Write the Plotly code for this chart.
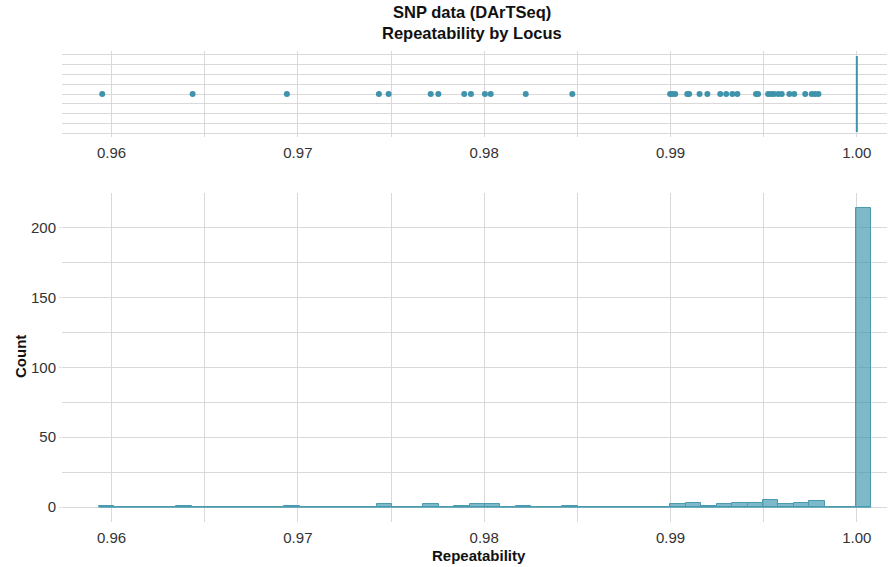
import plotly.graph_objects as go

# ---------------- data ----------------
# Repeatability values of loci below 1.0 (points in the top strip)
outlier_values = [
    0.95950, 0.96435, 0.96941, 0.97435, 0.97487, 0.97713, 0.97754, 0.97893,
    0.97929, 0.98004, 0.98035, 0.98223, 0.98473, 0.98998, 0.99009, 0.99025,
    0.99090, 0.99100, 0.99156, 0.99198, 0.99267, 0.99299, 0.99332, 0.99359,
    0.99459, 0.99470, 0.99524, 0.99540, 0.99556, 0.99578, 0.99597, 0.99638,
    0.99664, 0.99723, 0.99758, 0.99776, 0.99794,
]
n_perfect = 214           # loci with repeatability exactly 1.0
perfect_value = 1.0

# Histogram (50 bins)
bin_start = 0.95932
bin_width = 0.000829
bin_counts = [
    1, 0, 0, 0, 0, 1, 0, 0, 0, 0,
    0, 0, 1, 0, 0, 0, 0, 0, 2, 0,
    0, 2, 0, 1, 2, 2, 0, 1, 0, 0,
    1, 0, 0, 0, 0, 0, 0, 2, 3, 1,
    2, 3, 3, 5, 2, 3, 4, 0, 0, 214,
]

x_ticks = [0.96, 0.97, 0.98, 0.99, 1.00]
x_ticklabels = ["0.96", "0.97", "0.98", "0.99", "1.00"]
y_ticks = [0, 50, 100, 150, 200]

title_lines = ["SNP data (DArTSeq)", "Repeatability by Locus"]
x_title = "Repeatability"
y_title = "Count"

# ---------------- styling ----------------
FONT = "Liberation Sans, Arial, sans-serif"
TEAL = "#3F93AB"
FILL = "rgba(58,148,172,0.66)"
EDGE = "#4A9BB0"
GRID = "#D9D9D9"
TXT = "#333333"
DARK = "#111111"
x_range = [0.95734, 1.00162]

W, H = 888, 567
ML, MT = 62, 51
MR = W - 887
MB = H - 522
PW, PH = W - ML - MR, H - MT - MB


def px_x(px):
    return (px - ML) / PW


def px_y(py):
    return (H - MB - py) / PH


box_values = outlier_values + [perfect_value] * n_perfect
centers = [bin_start + (i + 0.5) * bin_width for i in range(len(bin_counts))]
edges_ends = [bin_start, bin_start + len(bin_counts) * bin_width]

fig = go.Figure()

fig.add_trace(go.Box(
    x=box_values, y0=0, orientation="h", xaxis="x", yaxis="y",
    boxpoints="outliers", jitter=0, pointpos=0, width=7.7,
    fillcolor="rgba(0,0,0,0)", line=dict(color=TEAL, width=2),
    marker=dict(color=TEAL, size=6, line=dict(width=0)),
    whiskerwidth=0, showlegend=False, hoverinfo="x",
))

fig.add_trace(go.Scatter(
    x=edges_ends, y=[0, 0], mode="lines", xaxis="x2", yaxis="y2",
    line=dict(color=EDGE, width=1.5), showlegend=False, hoverinfo="skip",
))
fig.add_trace(go.Bar(
    x=centers, y=bin_counts, width=bin_width, xaxis="x2", yaxis="y2",
    marker=dict(color=FILL, line=dict(color=EDGE, width=1)),
    showlegend=False,
))

axis_common = dict(
    showline=False, zeroline=False, gridcolor=GRID, gridwidth=1,
    automargin=False,
    tickfont=dict(family=FONT, size=15, color=TXT),
)

top_dom = [px_y(137), 1.0]
bot_dom = [0.0, px_y(193)]

minor_x = dict(tickmode="array", tickvals=[0.965, 0.975, 0.985, 0.995],
               showgrid=True, gridcolor=GRID, gridwidth=1)

annotations = [
    dict(text="<b>" + title_lines[0] + "</b>", x=px_x(472), y=px_y(12),
         font=dict(family=FONT, size=16.5, color=DARK)),
    dict(text="<b>" + title_lines[1] + "</b>", x=px_x(472), y=px_y(33),
         font=dict(family=FONT, size=16.5, color=DARK)),
    dict(text="<b>" + x_title + "</b>", x=px_x(479), y=px_y(555),
         font=dict(family=FONT, size=15, color=DARK)),
    dict(text="<b>" + y_title + "</b>", x=px_x(20), y=px_y(357), textangle=-90,
         font=dict(family=FONT, size=15, color=DARK)),
]
for a in annotations:
    a.update(xref="paper", yref="paper", showarrow=False,
             xanchor="center", yanchor="middle")

fig.update_layout(
    width=W, height=H,
    paper_bgcolor="white", plot_bgcolor="white",
    margin=dict(l=ML, r=MR, t=MT, b=MB, autoexpand=False),
    font=dict(family=FONT, color=TXT),
    bargap=0,
    annotations=annotations,
    xaxis=dict(
        axis_common, domain=[0, 1], anchor="y", range=x_range,
        tickmode="array", tickvals=x_ticks, ticktext=x_ticklabels,
        ticks="outside", ticklen=2, tickcolor="rgba(0,0,0,0)",
        showgrid=True, minor=minor_x,
    ),
    yaxis=dict(
        axis_common, domain=top_dom, anchor="x", range=[-4.35, 4.35],
        tickmode="linear", tick0=0, dtick=1, showticklabels=False,
        showgrid=True, ticks="",
    ),
    xaxis2=dict(
        axis_common, domain=[0, 1], anchor="y2", range=x_range,
        tickmode="array", tickvals=x_ticks, ticktext=x_ticklabels,
        ticks="outside", ticklen=2, tickcolor="rgba(0,0,0,0)",
        showgrid=True, minor=minor_x,
    ),
    yaxis2=dict(
        axis_common, domain=bot_dom, anchor="x2", range=[-10.7, 224.7],
        tickmode="array", tickvals=y_ticks,
        ticks="outside", ticklen=2, tickcolor=GRID,
        showgrid=True,
        minor=dict(tickmode="array", tickvals=[25, 75, 125, 175],
                   showgrid=True, gridcolor=GRID, gridwidth=1),
    ),
)

fig.write_html(
    "out.html",
    config={"displayModeBar": False},
    post_script="document.body.style.margin='0';document.body.style.overflow='hidden';",
)
